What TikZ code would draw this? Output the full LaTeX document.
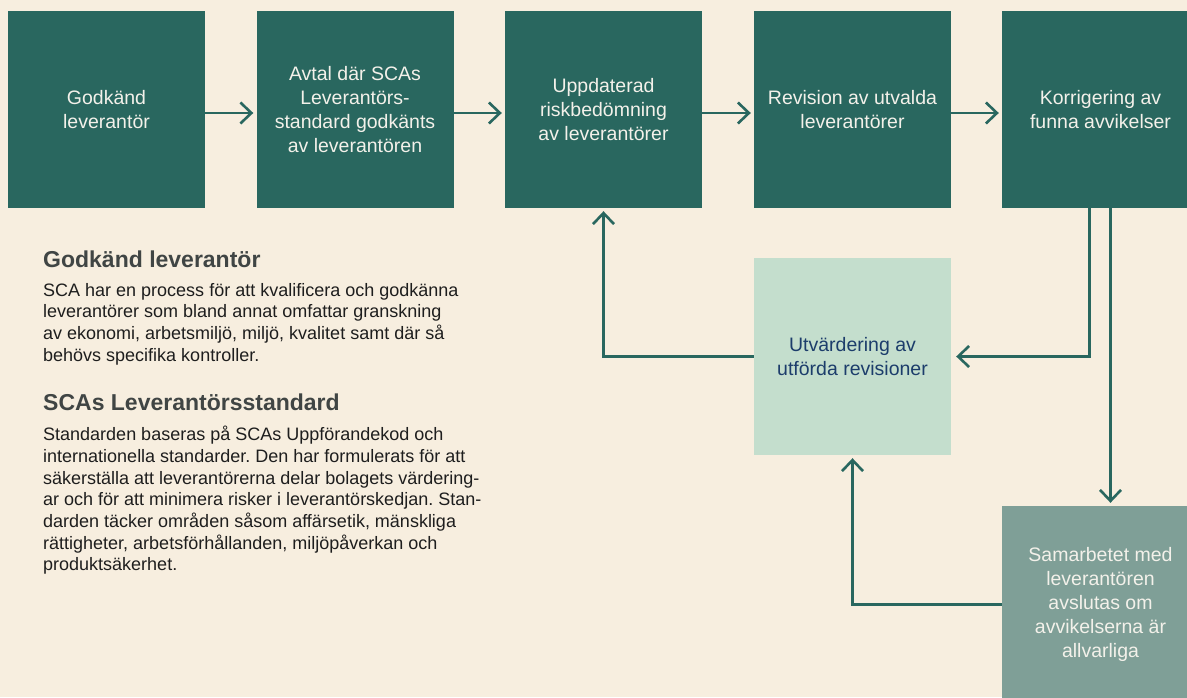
\documentclass[tikz,border=0pt]{standalone}
\usepackage{fontspec}
\setmainfont{Liberation Sans}
\usepackage{xcolor}
\usepackage{tikz}
\usetikzlibrary{arrows.meta}
\definecolor{bakgrund}{HTML}{F7EEDF}
\definecolor{morkgron}{HTML}{29675F}
\definecolor{ljusgron}{HTML}{C4DECD}
\definecolor{gragron}{HTML}{7F9F97}
\definecolor{bla}{HTML}{1C3D6B}
\definecolor{ljustext}{HTML}{F3F1EA}
\definecolor{rubrik}{HTML}{404544}
\definecolor{brodtext}{HTML}{1E1E1E}
\frenchspacing

\tikzset{
  ruta/.style={minimum width=197pt,minimum height=197pt,inner sep=0pt,align=center,
    font=\fontsize{19.5}{24}\selectfont},
  mork/.style={ruta,fill=morkgron,text=ljustext},
  pil/.style={-{Straight Barb[length=11pt,width=21pt]},line width=2.6pt,draw=morkgron,shorten >=3pt},
  rubriktext/.style={anchor=west,inner sep=0pt,text=rubrik,font=\fontsize{23}{28}\selectfont\bfseries},
  stycke/.style={anchor=north west,inner sep=0pt,align=left,text=brodtext,
    font=\fontsize{18}{21.7}\selectfont}
}

\begin{document}
\begin{tikzpicture}[x=1pt,y=-1pt]
  \path[use as bounding box] (0,0) rectangle (1187,697);
  \fill[bakgrund] (0,0) rectangle (1187,697);
  \clip (0,0) rectangle (1187,697);

  % Processsteg
  \node[mork] (godkand) at (106.5,109.5) {Godkänd\\leverantör};
  \node[mork] (avtal) at (355,109.5) {Avtal där SCAs\\Leverantörs-\\standard godkänts\\av leverantören};
  \node[mork] (risk) at (603.5,109.5) {Uppdaterad\\riskbedömning\\av leverantörer};
  \node[mork] (rev) at (852.5,109.5) {Revision av utvalda\\leverantörer};
  \node[mork] (korr) at (1100.5,109.5) {Korrigering av\\funna avvikelser};
  \node[ruta,fill=ljusgron,text=bla] (utv) at (852.5,356.5) {Utvärdering av\\utförda revisioner};
  \node[ruta,fill=gragron,text=ljustext] (slut) at (1100.5,604.5) {Samarbetet med\\leverantören\\avslutas om\\avvikelserna är\\allvarliga};

  % Pilar
  \foreach \a/\b in {godkand/avtal,avtal/risk,risk/rev,rev/korr}
    \draw[pil] ([yshift=-3.5pt]\a.east) -- ([yshift=-3.5pt]\b.west);
  \draw[pil,shorten >=5pt] ([xshift=-11pt]korr.south) |- (utv.east);
  \draw[pil] ([xshift=10pt]korr.south) -- ([xshift=10pt]slut.north);
  \draw[pil] (slut.west) -| (utv.south);
  \draw[pil] (utv.west) -| (risk.south);

  % Textblock
  \node[rubriktext] (rubrik1) at (43,259) {Godkänd leverantör};
  \node[stycke] (text1) at (43,283) {SCA har en process för att kvalificera och godkänna\\
    leverantörer som bland annat omfattar granskning\\
    av ekonomi, arbetsmiljö, miljö, kvalitet samt där så\\
    behövs specifika kontroller.};
  \node[rubriktext] (rubrik2) at (43,402) {SCAs Leverantörsstandard};
  \node[stycke] (text2) at (43,426) {Standarden baseras på SCAs Uppförandekod och\\
    internationella standarder. Den har formulerats för att\\
    säkerställa att leverantörerna delar bolagets värdering-\\
    ar och för att minimera risker i leverantörskedjan. Stan-\\
    darden täcker områden såsom affärsetik, mänskliga\\
    rättigheter, arbetsförhållanden, miljöpåverkan och\\
    produktsäkerhet.};
\end{tikzpicture}
\end{document}
